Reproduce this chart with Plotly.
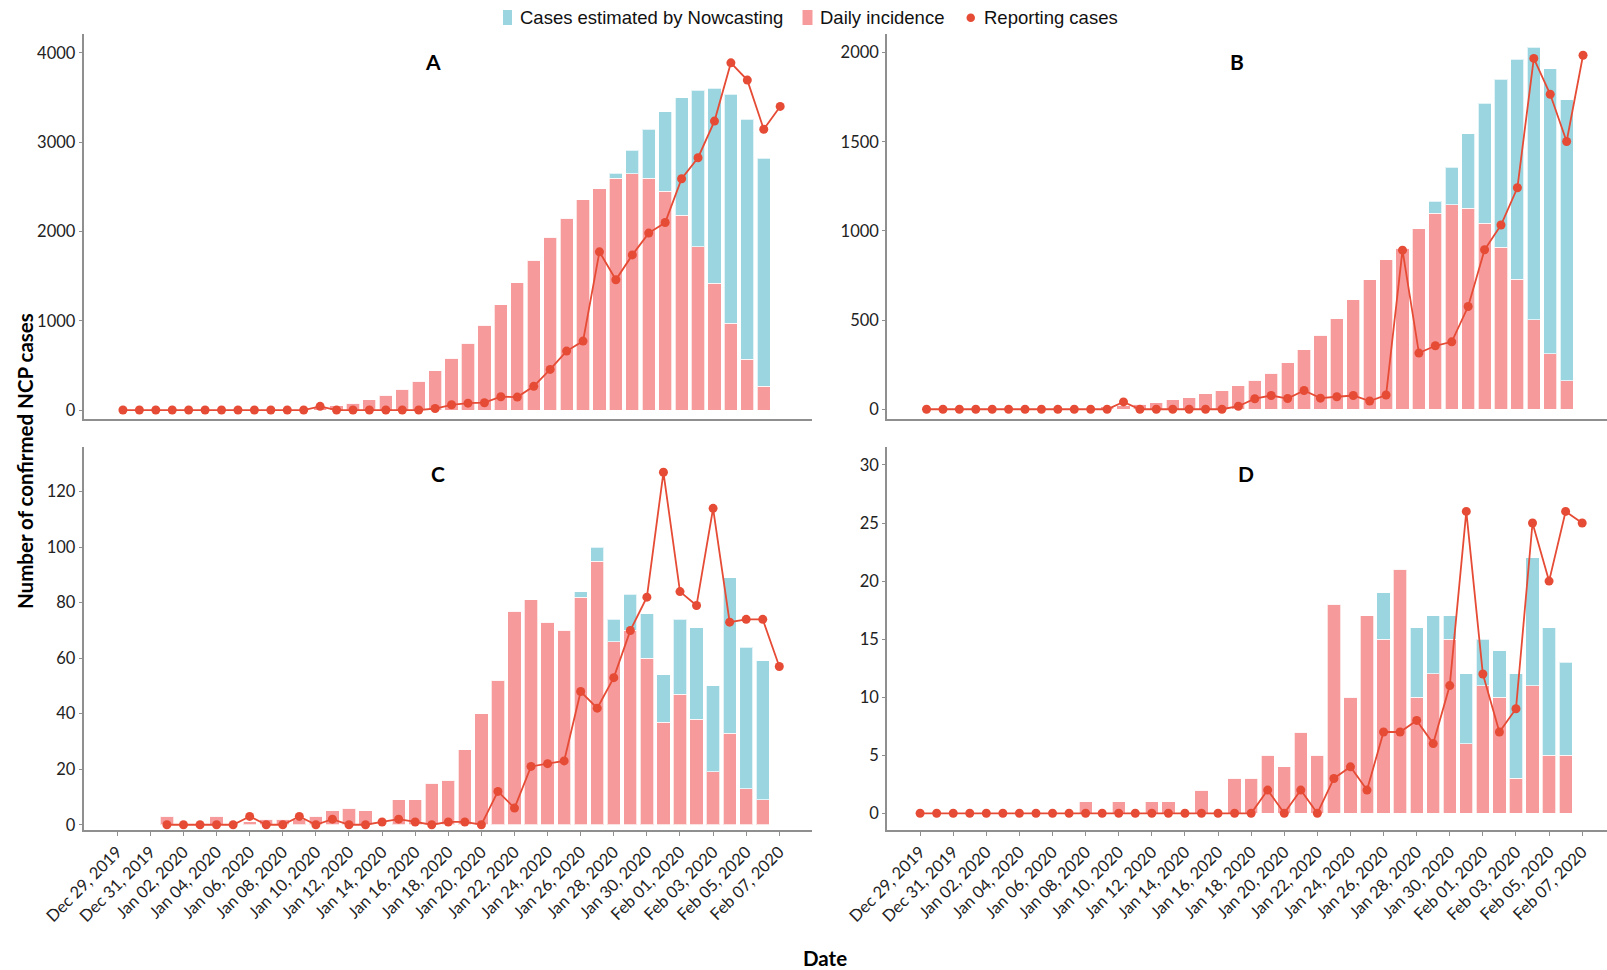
import pandas as pd
import plotly.graph_objects as go

# Dates on the x axis: Dec 29, 2019 .. Feb 07, 2020 (bars stop one day earlier)
dates = pd.date_range("2019-12-29", "2020-02-07", freq="D")
bar_dates = dates[:-1]
tick_dates = dates[::2]

# Panel A
a_incidence = [0, 0, 0, 0, 0, 0, 0, 0, 0, 0, 0, 0, 25, 48, 75, 117, 166, 235, 325, 438,
               578, 746, 951, 1179, 1425, 1679, 1933, 2149, 2354, 2478, 2597, 2646, 2597, 2448, 2183, 1828,
               1418, 970, 571, 269]
a_nowcast = [0] * 30 + [52, 264, 549, 892, 1313, 1750, 2186, 2567, 2683, 2548]
a_reported = [0, 0, 0, 0, 0, 0, 0, 0, 0, 0, 0, 0, 41, 0, 0, 0, 0, 0, 0, 17,
              59, 77, 82, 149, 145, 265, 455, 660, 772, 1771, 1459, 1737, 1981, 2099, 2589, 2825,
              3235, 3887, 3694, 3143, 3399]

# Panel B
b_incidence = [0, 0, 0, 0, 0, 0, 0, 0, 0, 0, 0, 15, 20, 28, 37, 52, 65, 86, 104, 132,
               164, 203, 261, 333, 415, 507, 615, 725, 839, 903, 1013, 1099, 1146, 1127, 1043, 907,
               729, 503, 310, 159]
b_nowcast = [0] * 31 + [66, 211, 419, 673, 943, 1234, 1527, 1598, 1576]
b_reported = [0, 0, 0, 0, 0, 0, 0, 0, 0, 0, 0, 0, 41, 0, 0, 0, 0, 0, 0, 17,
              59, 77, 60, 105, 62, 70, 77, 46, 80, 892, 315, 356, 378, 576, 894, 1033,
              1242, 1967, 1766, 1501, 1985]

# Panel C
c_incidence = [None, None, None, 3, 0, 0, 3, 0, 1, 2, 2, 2, 3, 5, 6, 5, 0, 9, 9, 15,
               16, 27, 40, 52, 77, 81, 73, 70, 82, 95, 66, 70, 60, 37, 47, 38,
               19, 33, 13, 9]
c_nowcast = [0] * 28 + [2, 5, 8, 13, 16, 17, 27, 33, 31, 56, 51, 50]
c_reported = [None, None, None, 0, 0, 0, 0, 0, 3, 0, 0, 3, 0, 2, 0, 0, 1, 2, 1, 0,
              1, 1, 0, 12, 6, 21, 22, 23, 48, 42, 53, 70, 82, 127, 84, 79,
              114, 73, 74, 74, 57]

# Panel D
d_incidence = [0, 0, 0, 0, 0, 0, 0, 0, 0, 0, 1, 0, 1, 0, 1, 1, 0, 2, 0, 3,
               3, 5, 4, 7, 5, 18, 10, 17, 15, 21, 10, 12, 15, 6, 11, 10,
               3, 11, 5, 5]
d_nowcast = [0] * 28 + [4, 0, 6, 5, 2, 6, 4, 4, 9, 11, 11, 8]
d_reported = [0, 0, 0, 0, 0, 0, 0, 0, 0, 0, 0, 0, 0, 0, 0, 0, 0, 0, 0, 0,
              0, 2, 0, 2, 0, 3, 4, 2, 7, 7, 8, 6, 11, 26, 12, 7,
              9, 25, 20, 26, 25]

legend_labels = ["Cases estimated by Nowcasting", "Daily incidence", "Reporting cases"]

PINK = "#F69A9B"
BLUE = "#9BD5E0"
RED = "#E64B35"
AXIS = "#8f8f8f"
FONT = "Lato"
LEGEND_FONT = "Liberation Sans"
W, H = 1607, 970
DAY_MS = 86400000


def px_x(p):
    return p / W


def px_y(p):
    return 1 - p / H


# label, data, y ticks, y range, x pixel box, x range in days from Dec 29, y pixel box
panels = [
    ("A", a_incidence, a_nowcast, a_reported, [0, 1000, 2000, 3000, 4000], [-97, 4210],
     (83.5, 812.4), (-2.40, 41.96), (34, 418.7)),
    ("B", b_incidence, b_nowcast, b_reported, [0, 500, 1000, 1500, 2000], [-53, 2104],
     (887, 1607), (-2.41, 41.46), (34, 418.7)),
    ("C", c_incidence, c_nowcast, c_reported, [0, 20, 40, 60, 80, 100, 120], [-1.9, 136.1],
     (83.5, 812.4), (-2.04, 42.0), (447, 830)),
    ("D", d_incidence, d_nowcast, d_reported, [0, 5, 10, 15, 20, 25, 30], [-1.44, 31.55],
     (887, 1607), (-2.0, 41.5), (447, 830)),
]

fig = go.Figure()
start = dates[0]

for n, (label, incidence, nowcast, reported, yticks, yrange, xbox, xdays, ybox) in enumerate(panels, 1):
    xa = "x" if n == 1 else f"x{n}"
    ya = "y" if n == 1 else f"y{n}"
    bottom = label in ("C", "D")

    fig.add_trace(go.Bar(
        x=bar_dates, y=incidence, xaxis=xa, yaxis=ya, width=0.8 * DAY_MS,
        marker=dict(color=PINK, line=dict(color="rgba(255,255,255,0.7)", width=1)),
        name=legend_labels[1], showlegend=False,
    ))
    fig.add_trace(go.Bar(
        x=bar_dates, y=nowcast, xaxis=xa, yaxis=ya, width=0.8 * DAY_MS,
        marker=dict(color=BLUE, line=dict(color="rgba(255,255,255,0.7)", width=1)),
        name=legend_labels[0], showlegend=False,
    ))
    fig.add_trace(go.Scatter(
        x=dates, y=reported, xaxis=xa, yaxis=ya, mode="lines+markers",
        line=dict(color=RED, width=1.8), marker=dict(color=RED, size=9),
        name=legend_labels[2], showlegend=False,
    ))

    axis_common = dict(showgrid=False, zeroline=False, showline=True, linecolor=AXIS, linewidth=1.6,
                       automargin=False)
    suffix = "" if n == 1 else str(n)
    fig.layout[f"xaxis{suffix}"] = dict(
        axis_common, type="date", anchor=ya,
        domain=[px_x(xbox[0]), px_x(xbox[1])],
        range=[start + pd.Timedelta(days=xdays[0]), start + pd.Timedelta(days=xdays[1])],
        tickvals=tick_dates, tickformat="%b %d, %Y", tickangle=-45,
        showticklabels=bottom, ticks="outside" if bottom else "", ticklen=4, tickcolor=AXIS,
        tickfont=dict(family=FONT, size=16.5, color="#222"),
    )
    fig.layout[f"yaxis{suffix}"] = dict(
        axis_common, anchor=xa, domain=[px_y(ybox[1]), px_y(ybox[0])], range=yrange,
        tickvals=yticks, ticks="outside", ticklen=3, tickcolor=AXIS,
        tickfont=dict(family=FONT, size=16.5, color="#222"),
    )

# panel letters
letters = [("A", 432.5, 62), ("B", 1236.5, 62), ("C", 438, 473.5), ("D", 1246, 473.5)]
for txt, px, py in letters:
    fig.add_annotation(x=px_x(px), y=px_y(py), xref="paper", yref="paper", text=f"<b>{txt}</b>",
                       xanchor="center", yanchor="middle", showarrow=False,
                       font=dict(family=FONT, size=21, color="#000"))

# axis titles
fig.add_annotation(x=px_x(25), y=px_y(461), xref="paper", yref="paper", textangle=-90,
                   xanchor="center", yanchor="middle", text="<b>Number of confirmed NCP cases</b>",
                   showarrow=False, font=dict(family=FONT, size=20.5, color="#000"))
fig.add_annotation(x=px_x(825), y=px_y(958), xref="paper", yref="paper", text="<b>Date</b>",
                   xanchor="center", yanchor="middle", showarrow=False,
                   font=dict(family=FONT, size=20.5, color="#000"))

# legend drawn by hand: swatch, then label
legend_items = [(BLUE, "rect", 503, 512, 518.3), (PINK, "rect", 802.5, 812.5, 818), (RED, "circle", 966.5, 975, 982)]
for (color, kind, x0, x1, tx), text in zip(legend_items, legend_labels):
    if kind == "rect":
        y0, y1 = 10, 25
    else:
        y0, y1 = 13.5, 22
    fig.add_shape(type=kind, xref="paper", yref="paper", x0=px_x(x0), x1=px_x(x1),
                  y0=px_y(y1), y1=px_y(y0), fillcolor=color, line=dict(width=0))
    fig.add_annotation(x=px_x(tx), y=px_y(17.7), xref="paper", yref="paper", text=text,
                       xanchor="left", yanchor="middle", showarrow=False,
                       font=dict(family=LEGEND_FONT, size=18.5, color="#111"))

fig.update_layout(
    width=W, height=H, autosize=False,
    margin=dict(l=0, r=0, t=0, b=0),
    barmode="stack", showlegend=False,
    paper_bgcolor="white", plot_bgcolor="white",
    font=dict(family=FONT, color="#000"),
)

fig.write_html("out.html", config={"displayModeBar": False},
               post_script="document.body.style.margin='0';")
